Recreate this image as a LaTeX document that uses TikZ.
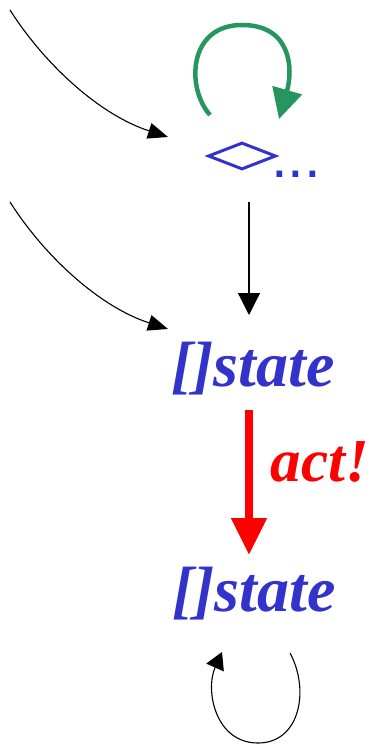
\documentclass[tikz,border=0pt]{standalone}
\usepackage{fontspec}
\setmainfont{Liberation Serif}
\newfontfamily\dotsfont{Liberation Sans}
\usetikzlibrary{arrows.meta,shapes.geometric}
\definecolor{stblue}{RGB}{51,51,204}
\definecolor{loopgreen}{RGB}{38,150,95}
\definecolor{actred}{RGB}{255,0,0}
\tikzset{
  thinarrow/.style={draw=black,line width=1.1pt,-{Triangle[length=20pt,width=16pt]}},
  vertarrow/.style={draw=black,line width=1.2pt,-{Triangle[length=22pt,width=22pt]}},
  greenarrow/.style={draw=loopgreen,line width=4.5pt,-{Triangle[length=30pt,width=30pt]}},
  redarrow/.style={draw=actred,line width=8pt,-{Triangle[length=37pt,width=34pt]}},
  looparrow/.style={draw=black,line width=1.1pt,-{Triangle[length=17pt,width=19pt]}},
  statetext/.style={text=stblue,font=\fontsize{64}{64}\selectfont\bfseries\itshape,inner sep=0pt,anchor=base},
  acttext/.style={text=actred,font=\fontsize{61}{61}\selectfont\bfseries\itshape,inner sep=0pt,anchor=base},
  diashape/.style={diamond,draw=stblue,line width=3pt,minimum width=68pt,minimum height=27pt,inner sep=0pt},
  dotstext/.style={text=stblue,font=\fontsize{60}{60}\selectfont\dotsfont,inner sep=0pt,anchor=base west},
}
\begin{document}
\begin{tikzpicture}[x=1pt,y=-1pt]
\useasboundingbox (0,0) rectangle (370,751);
% nodes
\node[diashape] (dia) at (242,156) {};
\node[dotstext] (dots) at (271,178) {...};
\node[statetext] (st1) at (253,386) {[]state};
\node[acttext] (act) at (320,481) {act!};
\node[statetext] (st2) at (254,611) {[]state};
% coordinates
\coordinate (a1s) at (10,10);
\coordinate (a1e) at (168,137);
\coordinate (a2s) at (10,202);
\coordinate (a2e) at (168,329);
\coordinate (gs) at (210,115);
\coordinate (gt) at (242,25);
\coordinate (ge) at (279,119);
\coordinate (vs) at (249,202);
\coordinate (ve) at (249,315);
\coordinate (rs) at (249,410);
\coordinate (re) at (249,555);
\coordinate (ls) at (290,653);
\coordinate (lb) at (258,743);
\coordinate (le) at (222,652);
% connectors
\draw[thinarrow] (a1s) .. controls (45,65) and (100,115) .. (a1e);
\draw[thinarrow] (a2s) .. controls (45,257) and (100,307) .. (a2e);
\draw[greenarrow] (gs) .. controls (186,88) and (188,25) .. (gt) .. controls (292,25) and (293,70) .. (ge);
\draw[vertarrow] (vs) -- (ve);
\draw[redarrow] (rs) -- (re);
\draw[looparrow] (ls) .. controls (310,690) and (300,743) .. (lb) .. controls (215,743) and (205,690) .. (le);
\end{tikzpicture}
\end{document}
